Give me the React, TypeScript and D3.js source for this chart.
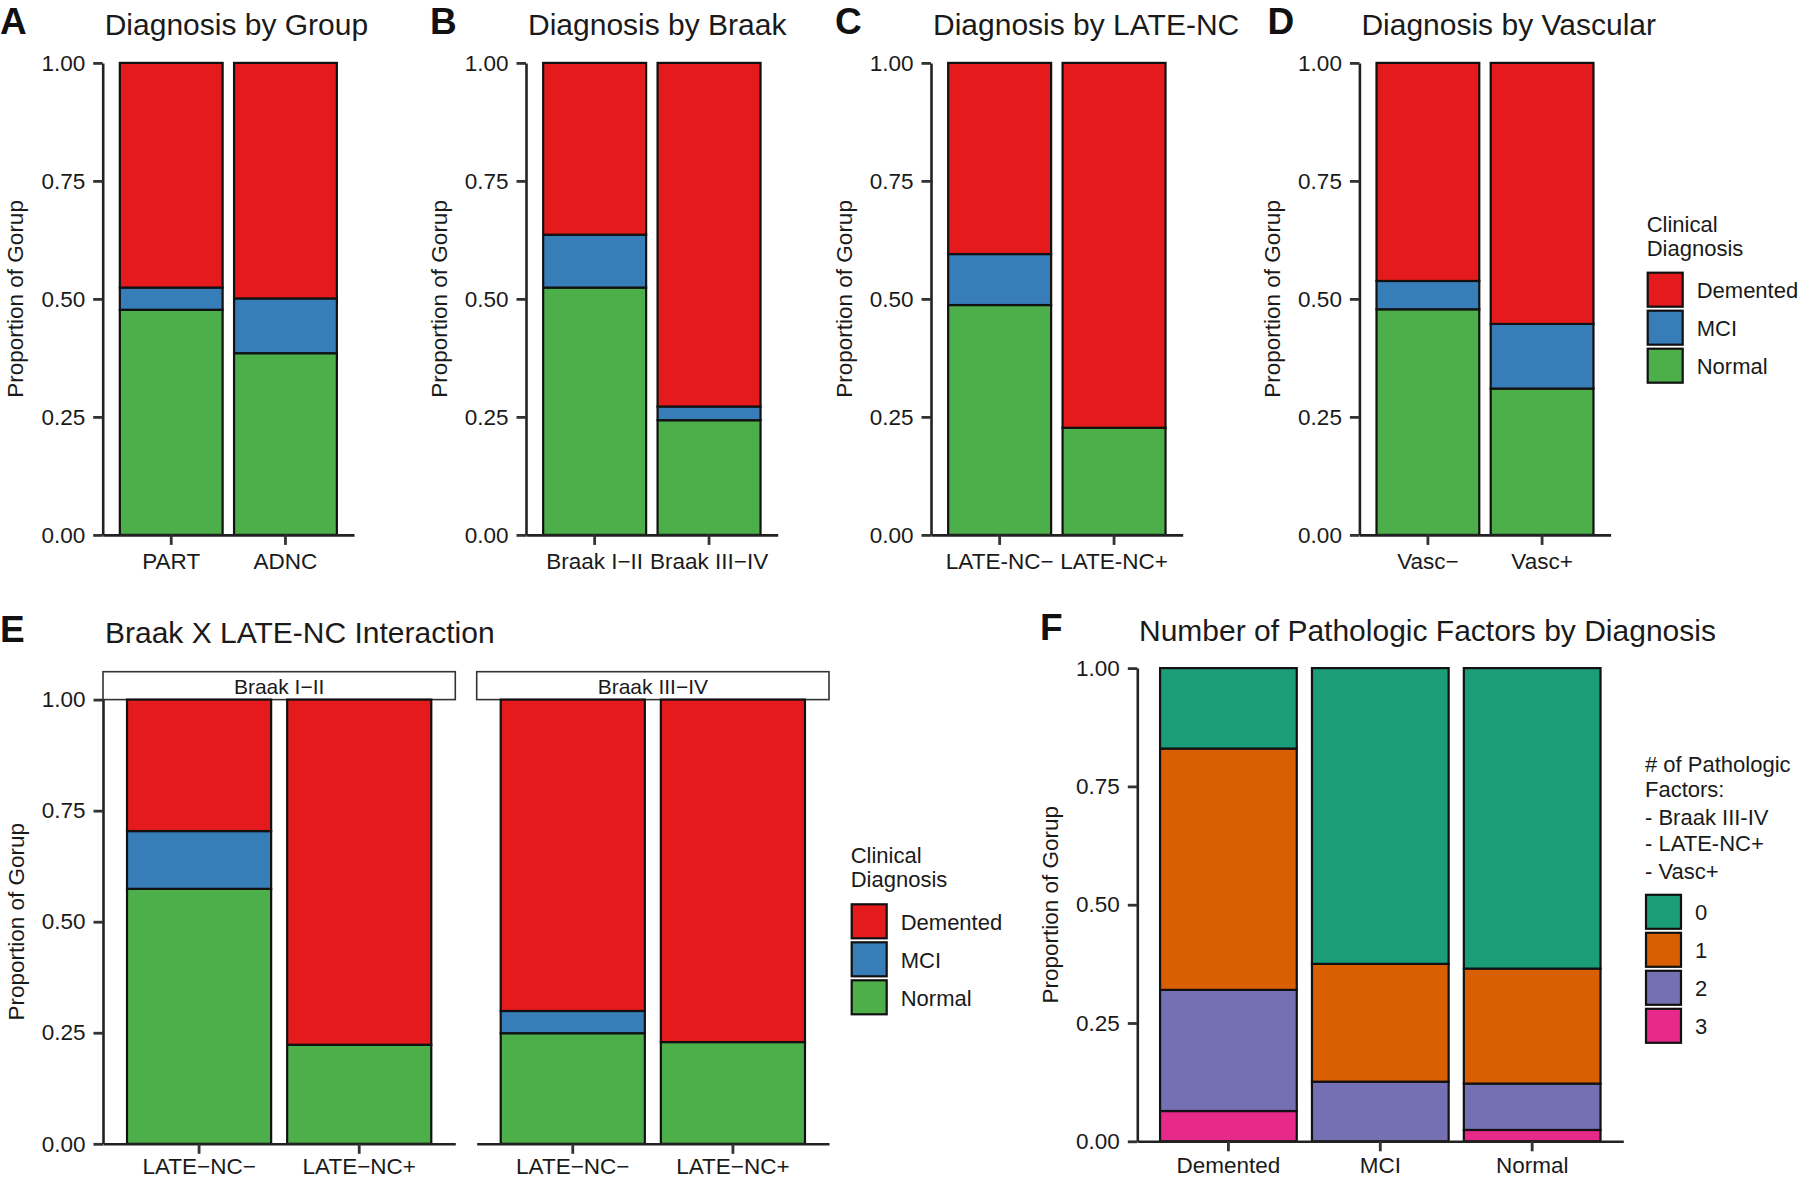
import React, { useEffect, useRef } from 'react';
import * as d3 from 'd3';

// ---- data (proportions) ----
const diagnosisLevels = ['Demented', 'MCI', 'Normal'];
const diagnosisColors = ['#E41A1C', '#377EB8', '#4DAF4A'];

const factorLevels = ['0', '1', '2', '3'];
const factorColors = ['#1B9E77', '#D95F02', '#7570B3', '#E7298A'];

const groupCats = ['PART', 'ADNC'];
const groupDemented = [0.476, 0.499];
const groupMCI = [0.047, 0.116];
const groupNormal = [0.477, 0.385];

const braakCats = ['Braak I\u2212II', 'Braak III\u2212IV'];
const braakDemented = [0.364, 0.728];
const braakMCI = [0.112, 0.029];
const braakNormal = [0.524, 0.243];

const lateCats = ['LATE-NC\u2212', 'LATE-NC+'];
const lateDemented = [0.405, 0.773];
const lateMCI = [0.108, 0.0];
const lateNormal = [0.487, 0.227];

const vascCats = ['Vasc\u2212', 'Vasc+'];
const vascDemented = [0.462, 0.553];
const vascMCI = [0.06, 0.137];
const vascNormal = [0.478, 0.31];

const facetLabels = ['Braak I\u2212II', 'Braak III\u2212IV'];
const interactionCats = ['LATE\u2212NC\u2212', 'LATE\u2212NC+'];
const interactionDemented = [
    [0.296, 0.777],
    [0.701, 0.771],
];
const interactionMCI = [
    [0.13, 0.0],
    [0.05, 0.0],
];
const interactionNormal = [
    [0.574, 0.223],
    [0.249, 0.229],
];

const factorCats = ['Demented', 'MCI', 'Normal'];
const factor0 = [0.17, 0.625, 0.635];
const factor1 = [0.51, 0.249, 0.243];
const factor2 = [0.256, 0.126, 0.098];
const factor3 = [0.064, 0.0, 0.024];

const yTicks = [0, 0.25, 0.5, 0.75, 1];
const yTitle = 'Proportion of Gorup';

const FONT = "'Liberation Sans', Arial, Helvetica, sans-serif";
const INK = '#1a1a1a';

function diagRows(cats, dem, mci, nor) {
    return cats.map((c, i) => ({ cat: c, Demented: dem[i], MCI: mci[i], Normal: nor[i] }));
}

function factorRows() {
    return factorCats.map((c, i) => ({ cat: c, '0': factor0[i], '1': factor1[i], '2': factor2[i], '3': factor3[i] }));
}

const diagColor = d3.scaleOrdinal().domain(diagnosisLevels).range(diagnosisColors);
const factorColor = d3.scaleOrdinal().domain(factorLevels).range(factorColors);

function styleAxis(sel) {
    sel.select('.domain').attr('stroke', '#222').attr('stroke-width', 2.6);
    sel.selectAll('.tick line').attr('stroke', '#333').attr('stroke-width', 2.8);
    sel.selectAll('.tick text').attr('fill', INK).style('font-family', FONT).style('font-size', '22.5px');
}

function drawBars(g, cfg) {
    const x = d3.scaleBand().domain(cfg.cats).range([cfg.left, cfg.right]).paddingInner(0.1).paddingOuter(0.15);
    const y = d3.scaleLinear().domain([0, 1]).range([cfg.bottom, cfg.top]);
    const series = d3.stack().keys(cfg.keys)(cfg.rows);

    series.forEach((s) => {
        g.append('g')
            .selectAll('rect')
            .data(s.filter((d) => d[1] - d[0] > 0.0001))
            .join('rect')
            .attr('x', (d) => x(d.data.cat))
            .attr('y', (d) => y(d[1]))
            .attr('width', x.bandwidth())
            .attr('height', (d) => y(d[0]) - y(d[1]))
            .attr('fill', cfg.color(s.key))
            .attr('stroke', '#111')
            .attr('stroke-width', 2.2);
    });

    const xa = g
        .append('g')
        .attr('transform', 'translate(0,' + cfg.bottom + ')')
        .call(d3.axisBottom(x).tickSize(10).tickSizeOuter(0).tickPadding(cfg.xPad || 8.5));
    styleAxis(xa);

    if (cfg.yAxis) {
        const ya = g
            .append('g')
            .attr('transform', 'translate(' + cfg.left + ',0)')
            .call(
                d3
                    .axisLeft(y)
                    .tickValues(yTicks)
                    .tickFormat(d3.format('.2f'))
                    .tickSize(9.5)
                    .tickSizeOuter(0)
                    .tickPadding(8)
            );
        styleAxis(ya);

        g.append('text')
            .attr('transform', 'translate(' + (cfg.left - 79.5) + ',' + (cfg.top + cfg.bottom) / 2 + ') rotate(-90)')
            .attr('text-anchor', 'middle')
            .style('font-family', FONT)
            .style('font-size', '22.5px')
            .attr('fill', INK)
            .text(yTitle);
    }
}

function drawTitle(g, letter, letterX, title, titleX, baseline) {
    g.append('text')
        .attr('x', letterX)
        .attr('y', baseline - 1)
        .style('font-family', FONT)
        .style('font-size', '37px')
        .style('font-weight', 'bold')
        .attr('fill', '#111')
        .text(letter);
    g.append('text')
        .attr('x', titleX)
        .attr('y', baseline)
        .style('font-family', FONT)
        .style('font-size', '30px')
        .attr('fill', INK)
        .text(title);
}

function drawLegend(g, cfg) {
    cfg.titleLines.forEach((t, i) => {
        g.append('text')
            .attr('x', cfg.x)
            .attr('y', cfg.titleBaselines[i])
            .style('font-family', FONT)
            .style('font-size', '22px')
            .attr('fill', INK)
            .text(t);
    });
    const step = 38;
    cfg.levels.forEach((lv, i) => {
        const top = cfg.keyTop + i * step;
        g.append('rect')
            .attr('x', cfg.x + 1)
            .attr('y', top + 1)
            .attr('width', 35)
            .attr('height', 34)
            .attr('fill', cfg.color(lv))
            .attr('stroke', '#111')
            .attr('stroke-width', 2.2);
        g.append('text')
            .attr('x', cfg.x + 50)
            .attr('y', top + 26.5)
            .style('font-family', FONT)
            .style('font-size', '22px')
            .attr('fill', INK)
            .text(cfg.labels ? cfg.labels[i] : lv);
    });
}

export default function App() {
    const ref = useRef(null);

    useEffect(() => {
        const svg = d3.select(ref.current);
        svg.selectAll('*').remove();
        const g = svg.append('g');

        const topRow = { top: 62.9, bottom: 534.9 };
        const diagKeys = ['Normal', 'MCI', 'Demented'];

        // A-D
        const topPanels = [
            { letter: 'A', letterX: 0, title: 'Diagnosis by Group', left: 102.7, right: 354, rows: diagRows(groupCats, groupDemented, groupMCI, groupNormal), cats: groupCats },
            { letter: 'B', letterX: 430, title: 'Diagnosis by Braak', left: 526, right: 777.7, rows: diagRows(braakCats, braakDemented, braakMCI, braakNormal), cats: braakCats },
            { letter: 'C', letterX: 835, title: 'Diagnosis by LATE-NC', left: 931, right: 1182.7, rows: diagRows(lateCats, lateDemented, lateMCI, lateNormal), cats: lateCats },
            { letter: 'D', letterX: 1267.5, title: 'Diagnosis by Vascular', left: 1359.4, right: 1610.6, rows: diagRows(vascCats, vascDemented, vascMCI, vascNormal), cats: vascCats },
        ];
        topPanels.forEach((p) => {
            drawTitle(g, p.letter, p.letterX, p.title, p.left + 2, 35);
            drawBars(g, {
                cats: p.cats,
                rows: p.rows,
                keys: diagKeys,
                color: diagColor,
                left: p.left,
                right: p.right,
                top: topRow.top,
                bottom: topRow.bottom,
                yAxis: true,
            });
        });
        drawLegend(g, {
            x: 1646.7,
            titleLines: ['Clinical', 'Diagnosis'],
            titleBaselines: [231.7, 256],
            keyTop: 271.7,
            levels: diagnosisLevels,
            color: diagColor,
        });

        // E: facets
        const eTop = 699.6;
        const eBottom = 1143.8;
        const facets = [
            [103, 455.3],
            [476.7, 829],
        ];
        drawTitle(g, 'E', 0, 'Braak X LATE-NC Interaction', 105, 642.7);
        facets.forEach((f, fi) => {
            g.append('rect')
                .attr('x', f[0])
                .attr('y', 671.7)
                .attr('width', f[1] - f[0])
                .attr('height', eTop - 671.7)
                .attr('fill', '#fff')
                .attr('stroke', '#333')
                .attr('stroke-width', 1.6);
            g.append('text')
                .attr('x', (f[0] + f[1]) / 2)
                .attr('y', 694.2)
                .attr('text-anchor', 'middle')
                .style('font-family', FONT)
                .style('font-size', '21px')
                .attr('fill', INK)
                .text(facetLabels[fi]);
            drawBars(g, {
                cats: interactionCats,
                rows: diagRows(interactionCats, interactionDemented[fi], interactionMCI[fi], interactionNormal[fi]),
                keys: diagKeys,
                color: diagColor,
                left: f[0],
                right: f[1],
                top: eTop,
                bottom: eBottom,
                yAxis: fi === 0,
                xPad: 4.5,
            });
        });
        drawLegend(g, {
            x: 850.7,
            titleLines: ['Clinical', 'Diagnosis'],
            titleBaselines: [863.3, 887.3],
            keyTop: 903.3,
            levels: diagnosisLevels,
            color: diagColor,
        });

        // F
        drawTitle(g, 'F', 1040, 'Number of Pathologic Factors by Diagnosis', 1139, 640.5);
        drawBars(g, {
            cats: factorCats,
            rows: factorRows(),
            keys: ['3', '2', '1', '0'],
            color: factorColor,
            left: 1137.3,
            right: 1623.3,
            top: 668.1,
            bottom: 1141.3,
            yAxis: true,
            xPad: 6,
        });
        drawLegend(g, {
            x: 1645,
            titleLines: ['# of Pathologic', 'Factors:', '- Braak III-IV', '- LATE-NC+', '- Vasc+'],
            titleBaselines: [771.5, 796.9, 824.8, 851.3, 878.5],
            keyTop: 893.8,
            levels: factorLevels,
            color: factorColor,
        });
    }, []);

    return (
        <svg
            ref={ref}
            width={1800}
            height={1179}
            style={{ position: 'absolute', left: 0, top: 0, background: '#fff' }}
        />
    );
}
